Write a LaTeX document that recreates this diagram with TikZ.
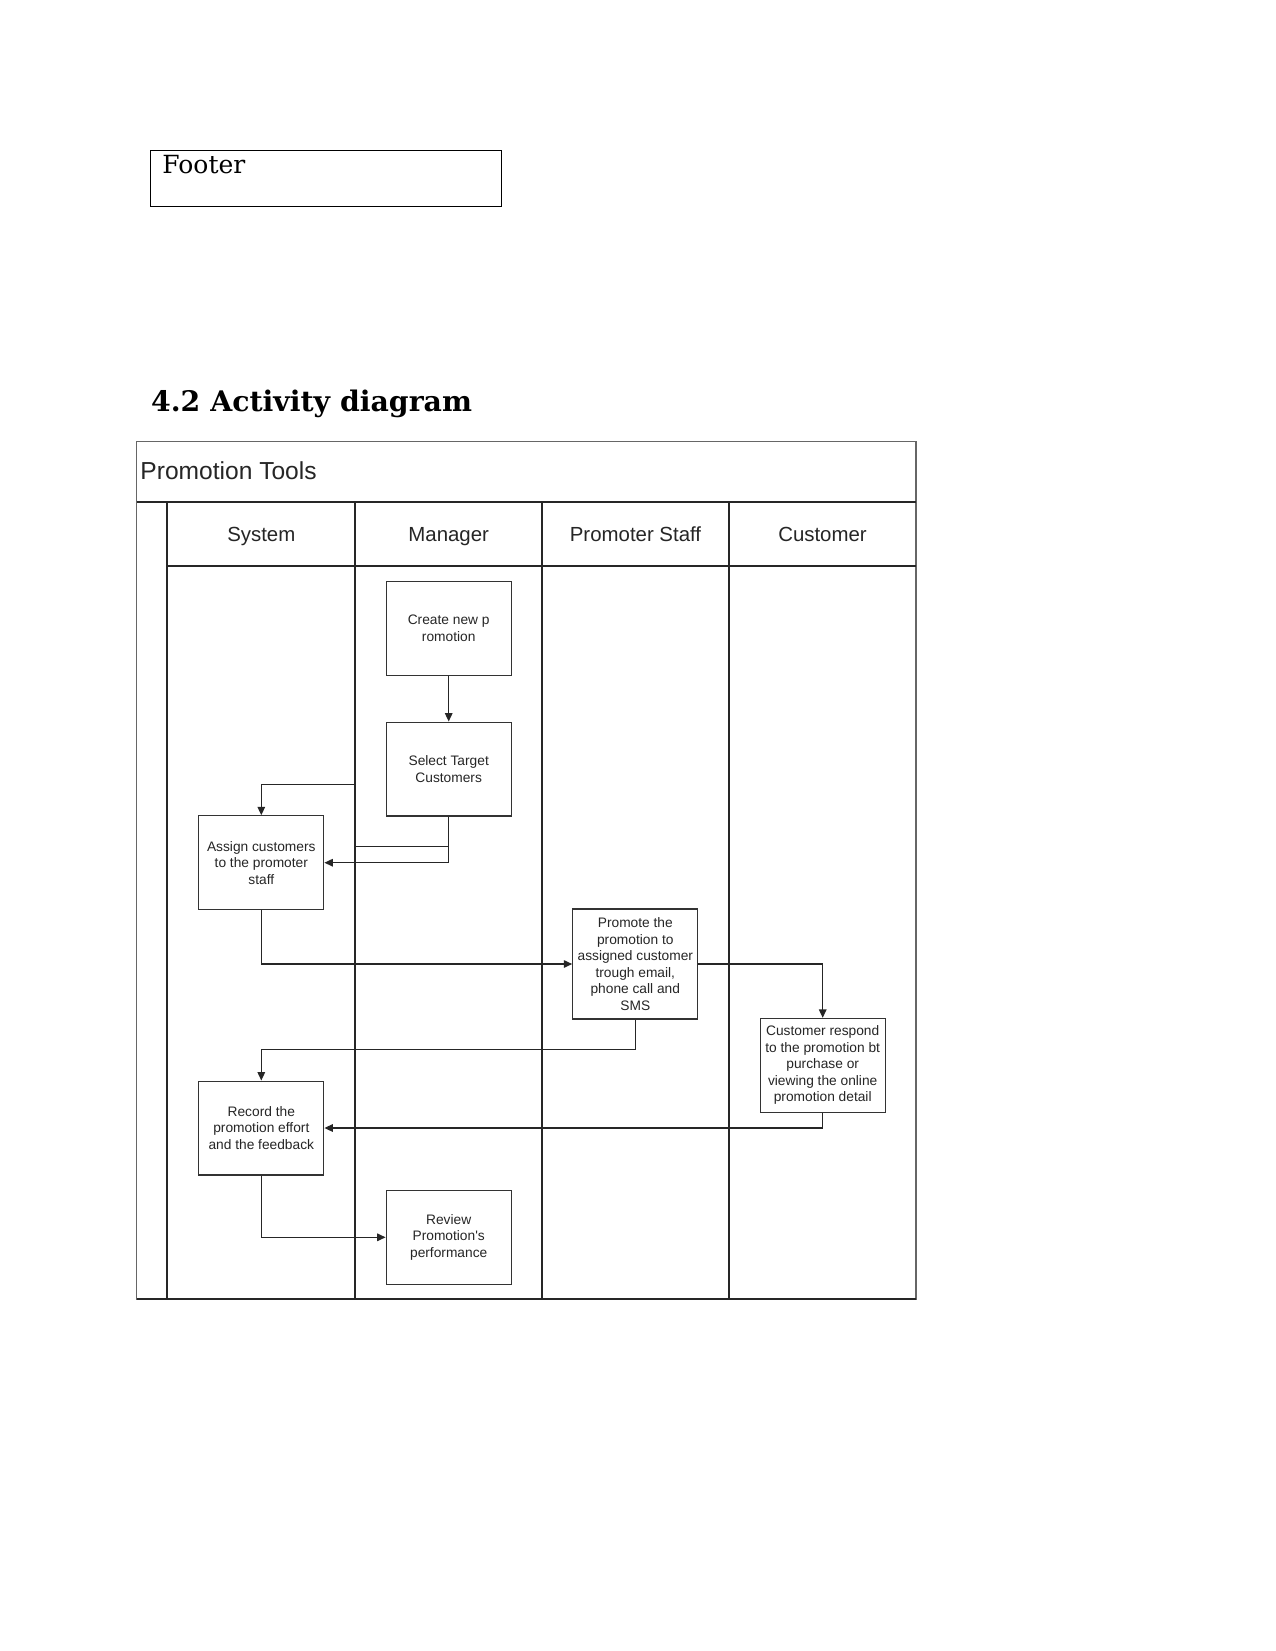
\documentclass[tikz,border=0pt]{standalone}
\usepackage{fontspec}
\setmainfont{DejaVu Serif}
\newfontfamily\arialfont{Liberation Sans}
\usetikzlibrary{arrows.meta}
\begin{document}
\begin{tikzpicture}[x=0.48pt,y=-0.48pt,
  lane/.style={line width=0.9pt, draw=black!85},
  frame/.style={line width=0.6pt, draw=black!60},
  actbox/.style={draw=black!80, line width=0.6pt, fill=white, inner sep=0pt, minimum width=60pt, minimum height=45pt, align=center, font=\arialfont\fontsize{6.6}{7.9}\selectfont, text=black!85},
  flow/.style={draw=black!85, line width=0.6pt, -{Triangle[length=4pt,width=3.6pt]}},
  plain/.style={draw=black!85, line width=0.6pt},
  lanehead/.style={font=\arialfont\fontsize{9.8}{12}\selectfont, text=black!85, inner sep=0pt, anchor=base},
  doctext/.style={inner sep=0pt, anchor=base west}
]
\useasboundingbox (0,0) rectangle (1275,1651);
\fill[white] (0,0) rectangle (1275,1651);

% footer box
\draw[line width=0.7pt] (150.7,150.7) rectangle (501.5,206.5);
\node[doctext, font=\fontsize{12}{14}\selectfont] (footer) at (162,174) {Footer};

% heading
\node[doctext, font=\bfseries\fontsize{13.6}{16}\selectfont] (heading) at (150.7,411.7) {4.2 Activity diagram};

% swimlane frame
\draw[frame] (136.7,441.7) rectangle (916,1299.3);
\draw[lane] (136.7,501.7) -- (916,501.7);
\draw[lane] (167.3,565.7) -- (916,565.7);
\draw[lane] (167.3,501.7) -- (167.3,1299.3);
\draw[lane] (355.3,501.7) -- (355.3,1299.3);
\draw[lane] (542,501.7) -- (542,1299.3);
\draw[lane] (729,501.7) -- (729,1299.3);
\draw[lane] (136.7,1299.3) -- (916,1299.3);

\node[doctext, font=\arialfont\fontsize{11.8}{14}\selectfont, text=black!85] (title) at (140,479) {Promotion Tools};
\node[lanehead] (hsys) at (261.3,541) {System};
\node[lanehead] (hman) at (448.7,541) {Manager};
\node[lanehead] (hpro) at (635.5,541) {Promoter Staff};
\node[lanehead] (hcus) at (822.5,541) {Customer};

% activities
\node[actbox] (create) at (448.7,628.3) {Create new p\\romotion};
\node[actbox] (select) at (448.7,769) {Select Target\\Customers};
\node[actbox] (assign) at (261.3,862.7) {Assign customers\\to the promoter\\staff};
\node[actbox, minimum height=52.8pt] (promote) at (635.3,964) {Promote the\\promotion to\\assigned customer\\trough email,\\phone call and\\SMS};
\node[actbox] (customer) at (822.7,1065.3) {Customer respond\\to the promotion bt\\purchase or\\viewing the online\\promotion detail};
\node[actbox] (record) at (261.3,1128) {Record the\\promotion effort\\and the feedback};
\node[actbox] (review) at (448.7,1237.3) {Review\\Promotion's\\performance};

% connectors
\coordinate (j1) at (448.7,846.7);
\coordinate (j2) at (355.3,846.7);
\coordinate (j3) at (355.3,784.3);
\coordinate (j4) at (261.3,784.3);
\coordinate (j5) at (448.7,862.7);
\coordinate (j7) at (635.3,1049.3);
\coordinate (j8) at (261.3,1049.3);

\draw[flow] (create) -- (select);
\draw[flow] (select.south) -- (j1) -- (j2) -- (j3) -- (j4) -- (assign.north);
\draw[flow] (select.south) -- (j5) -- (assign.east);
\draw[flow] (assign.south) |- (promote.west);
\draw[flow] (promote.east) -| (customer.north);
\draw[flow] (promote.south) -- (j7) -- (j8) -- (record.north);
\draw[flow] (customer.south) |- (record.east);
\draw[flow] (record.south) |- (review.west);
\end{tikzpicture}
\end{document}
